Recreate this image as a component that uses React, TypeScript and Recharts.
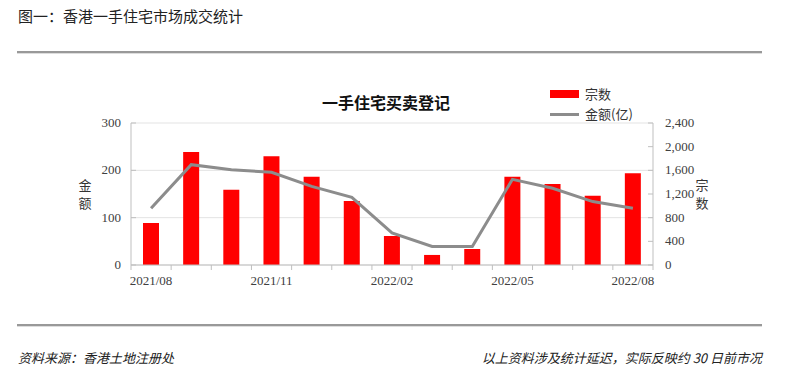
import React from 'react';
import { ComposedChart, Bar, Line, XAxis, YAxis, CartesianGrid } from 'recharts';

const months = [
  '2021/08', '2021/09', '2021/10', '2021/11', '2021/12', '2022/01', '2022/02',
  '2022/03', '2022/04', '2022/05', '2022/06', '2022/07', '2022/08',
];
const labelledMonths = ['2021/08', '2021/11', '2022/02', '2022/05', '2022/08'];
const deals = [710, 1910, 1270, 1840, 1490, 1080, 490, 170, 270, 1490, 1370, 1170, 1550];
const amount = [120, 212, 201, 196, 166, 143, 68, 39, 39, 181, 162, 134, 120];
const leftTicks = [0, 100, 200, 300];
const rightTicks = [0, 400, 800, 1200, 1600, 2000, 2400];

const data = months.map((m, i) => ({ month: m, deals: deals[i], amount: amount[i] }));

const CJK = '"Noto Sans CJK SC", "Noto Sans", sans-serif';
const SERIF = '"Liberation Serif", "DejaVu Serif", serif';
const PLOT_W = 522;
const band = PLOT_W / months.length;

const fmt = (v: number) => v.toLocaleString('en-US');

const LeftTick = ({ x, y, payload }: any) => (
  <g>
    <line x1={x + 10} x2={x + 15} y1={y} y2={y} stroke="#bfbfbf" />
    <text x={x} y={y} dy={4} textAnchor="end" fontFamily={SERIF} fontSize={13} fill="#404040">
      {fmt(payload.value)}
    </text>
  </g>
);

const RightTick = ({ x, y, payload }: any) => (
  <g>
    <line x1={x - 12} x2={x - 17} y1={y} y2={y} stroke="#bfbfbf" />
    <text x={x} y={y} dy={4} textAnchor="start" fontFamily={SERIF} fontSize={13} fill="#404040">
      {fmt(payload.value)}
    </text>
  </g>
);

const MonthTick = ({ x, y, payload, index }: any) => {
  const axisY = y - 8;
  const show = labelledMonths.includes(payload.value);
  return (
    <g>
      <line x1={x - band / 2} x2={x - band / 2} y1={axisY} y2={axisY + 5} stroke="#bfbfbf" />
      {index === months.length - 1 && (
        <line x1={x + band / 2} x2={x + band / 2} y1={axisY} y2={axisY + 5} stroke="#bfbfbf" />
      )}
      {show && (
        <text x={x} y={y} dy={12} textAnchor="middle" fontFamily={SERIF} fontSize={13} fill="#404040">
          {payload.value}
        </text>
      )}
    </g>
  );
};

// legend drawn by hand, a Recharts Legend would eat plot space
const LegendBox = () => (
  <div style={{ position: 'absolute', left: 550, top: 84, fontFamily: CJK, fontSize: 13, color: '#333', lineHeight: '20px' }}>
    <div style={{ display: 'flex', alignItems: 'center' }}>
      <span style={{ display: 'inline-block', width: 29, height: 8, background: '#ff0000', marginRight: 6 }} />
      宗数
    </div>
    <div style={{ display: 'flex', alignItems: 'center' }}>
      <span style={{ display: 'inline-block', width: 29, height: 3, background: '#8c8c8c', marginRight: 6 }} />
      金额(亿)
    </div>
  </div>
);

const VLabel = ({ text, left }: { text: string; left: number }) => (
  <div
    style={{
      position: 'absolute', left, top: 176, width: 16, fontFamily: CJK, fontSize: 13,
      lineHeight: '18px', color: '#333', textAlign: 'center',
    }}
  >
    {text.split('').map((c, i) => <div key={i}>{c}</div>)}
  </div>
);

const rule = (top: number) => (
  <div style={{ position: 'absolute', left: 17, top, width: 745, height: 2, background: '#999', boxShadow: '0 1px 0 #ddd' }} />
);

export default function App() {
  return (
    <div style={{ position: 'absolute', left: 0, top: 0, width: 792, height: 372, background: '#fff', overflow: 'hidden' }}>
      <div style={{ position: 'absolute', left: 18, top: 5, fontFamily: CJK, fontSize: 15, color: '#222' }}>
        图一：香港一手住宅市场成交统计
      </div>
      {rule(51)}
      <div
        style={{
          position: 'absolute', left: 320, top: 90, width: 132, textAlign: 'center',
          fontFamily: CJK, fontWeight: 700, fontSize: 16, color: '#111',
        }}
      >
        一手住宅买卖登记
      </div>
      <ComposedChart
        width={792}
        height={372}
        data={data}
        margin={{ top: 123, right: 89, bottom: 77, left: 91 }}
        style={{ position: 'absolute', left: 0, top: 0 }}
      >
        <CartesianGrid yAxisId="left" vertical={false} stroke="#e3e3e3" />
        <XAxis
          dataKey="month"
          interval={0}
          tickLine={false}
          tickSize={0}
          tickMargin={8}
          height={30}
          stroke="#bfbfbf"
          tick={<MonthTick />}
        />
        <YAxis
          yAxisId="left"
          domain={[0, 300]}
          ticks={leftTicks}
          interval={0}
          width={40}
          tickLine={false}
          tickSize={0}
          tickMargin={10}
          stroke="#bfbfbf"
          tick={<LeftTick />}
        />
        <YAxis
          yAxisId="right"
          orientation="right"
          domain={[0, 2400]}
          ticks={rightTicks}
          interval={0}
          width={50}
          tickLine={false}
          tickSize={0}
          tickMargin={12}
          stroke="#bfbfbf"
          tick={<RightTick />}
        />
        <Bar yAxisId="right" dataKey="deals" name="宗数" fill="#ff0000" barSize={16} isAnimationActive={false} />
        <Line
          yAxisId="left"
          dataKey="amount"
          name="金额(亿)"
          stroke="#8c8c8c"
          strokeWidth={3}
          dot={false}
          type="linear"
          isAnimationActive={false}
        />
      </ComposedChart>
      <LegendBox />
      <VLabel text="金额" left={77} />
      <VLabel text="宗数" left={694} />
      {rule(324)}
      <div style={{ position: 'absolute', left: 18, top: 348, fontFamily: CJK, fontSize: 13, fontStyle: 'italic', color: '#222' }}>
        资料来源：香港土地注册处
      </div>
      <div style={{ position: 'absolute', right: 30, top: 348, fontFamily: CJK, fontSize: 13, fontStyle: 'italic', color: '#222' }}>
        以上资料涉及统计延迟，实际反映约 30 日前市况
      </div>
    </div>
  );
}
